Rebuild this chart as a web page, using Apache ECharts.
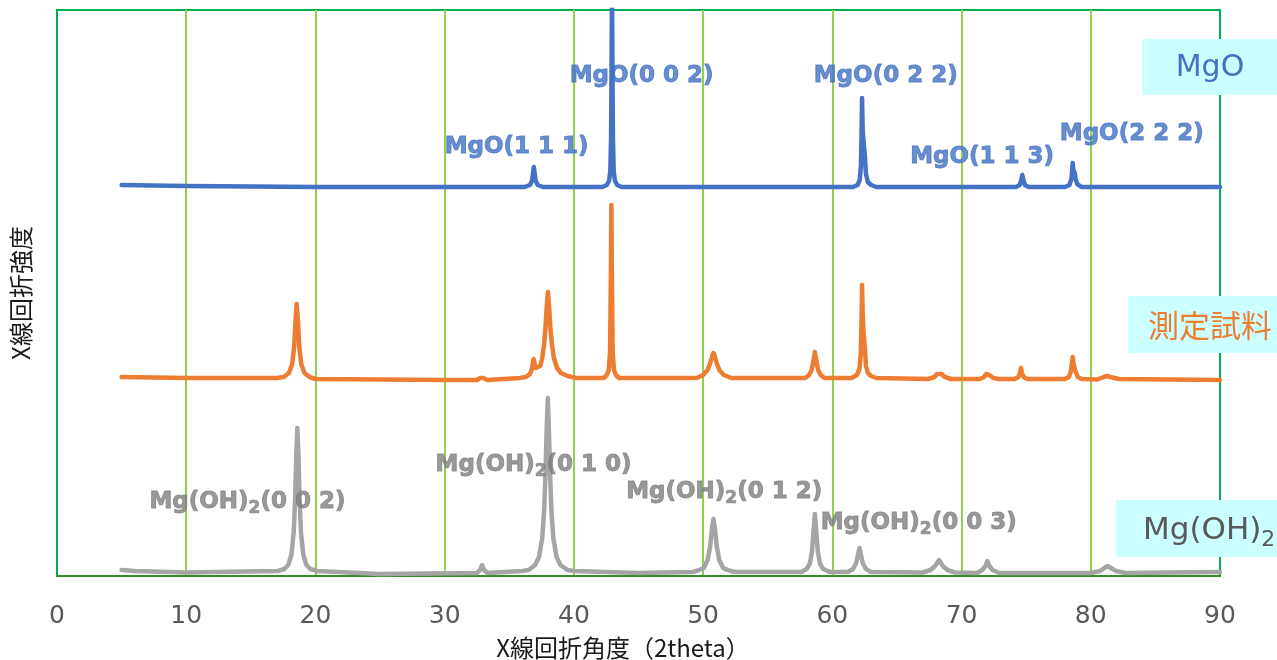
<!DOCTYPE html>
<html>
<head>
<meta charset="utf-8">
<script src="https://cdn.jsdelivr.net/npm/echarts@6/dist/echarts.min.js"></script>
<style>html,body{margin:0;padding:0;background:#fff}#c{width:1277px;height:660px}</style>
</head>
<body>
<div id="c"></div>
<script>
// ---- Data (2theta, intensity in chart units, each pattern offset) ----
const xTicks = [0, 10, 20, 30, 40, 50, 60, 70, 80, 90];
const seriesNames = ['MgO', '測定試料', 'Mg(OH)2'];

const mgoData = [
  [5,391],[10,390],[20,389],
  [36.2,389],[36.6,391],[36.75,395],[36.84,403],[36.9,409],[36.96,403],[37.05,395],[37.2,391],[37.6,389],
  [42.2,389],[42.55,391],[42.72,395],[42.82,405],[42.88,440],[42.92,520],[42.95,600],[42.98,520],[43.02,440],[43.08,405],[43.18,395],[43.35,391],[43.7,389],
  [61.6,389],[61.95,391],[62.12,396],[62.21,410],[62.26,440],[62.3,478],[62.35,445],[62.4,437],[62.46,436],[62.52,420],[62.6,402],[62.75,394],[63.0,391],[63.4,389],
  [74.2,389],[74.5,391],[74.62,396],[74.7,401],[74.78,396],[74.9,391],[75.2,389],
  [78.0,389],[78.35,391],[78.5,397],[78.56,405],[78.6,413],[78.65,406],[78.7,404],[78.76,403],[78.82,397],[78.95,392],[79.3,389],
  [90,389]
];

const sampleData = [
  [5,199],[10,198],[17.0,198],[17.55,199],[17.95,203],[18.2,212],[18.35,229],[18.46,256],[18.55,272],[18.64,256],[18.75,229],[18.9,212],[19.15,203],[19.55,199],[20,197],
  [30,196],[32.5,196],[32.75,198],[32.88,200],[33.0,198],[33.3,196],
  [35.8,198],[36.3,199],[36.6,202],[36.75,207],[36.83,214],[36.88,217],[36.95,213],[37.05,208],[37.2,207],[37.4,210],[37.55,218],[37.7,232],[37.8,248],[37.9,270],[37.99,284],[38.08,270],[38.18,248],[38.3,232],[38.45,218],[38.7,208],[39.0,203],[39.5,200],[40.2,198],
  [42.3,198],[42.55,201],[42.7,206],[42.8,224],[42.86,300],[42.9,371],[42.94,300],[43.0,224],[43.1,206],[43.25,201],[43.5,198],
  [49.5,198],[50.0,201],[50.35,206],[50.55,213],[50.7,220],[50.8,223],[50.9,220],[51.05,213],[51.25,206],[51.6,201],[52.2,198],
  [57.9,198],[58.2,201],[58.4,206],[58.52,214],[58.65,224],[58.78,214],[58.9,206],[59.1,201],[59.4,198],
  [61.5,198],[61.9,201],[62.1,207],[62.2,222],[62.26,255],[62.3,291],[62.35,262],[62.4,246],[62.46,244],[62.52,228],[62.6,210],[62.75,203],[63.0,200],[63.4,198],
  [67.4,197],[67.9,199],[68.1,202],[68.25,203.5],[68.45,202],[68.7,199],[69.2,197],
  [71.4,197],[71.75,199],[71.9,202],[72.0,203],[72.15,201],[72.45,198],[72.9,197],
  [74.1,197],[74.4,199],[74.52,203],[74.6,208],[74.68,203],[74.8,199],[75.1,197],
  [78.0,197],[78.3,199],[78.45,204],[78.53,212],[78.6,219],[78.68,211],[78.76,209],[78.84,204],[79.0,199],[79.3,197],
  [80.5,196.5],[81.0,199],[81.25,200],[81.5,199],[82.2,197],[90,196]
];

const mgoh2Data = [
  [5,6],[6,5],[10,3.5],
  [17.1,5],[17.6,7],[17.9,11],[18.15,22],[18.32,44],[18.43,78],[18.52,123],[18.6,148],[18.68,123],[18.77,78],[18.88,44],[19.05,22],[19.3,11],[19.6,7],[20.1,5],
  [25,2],[32.5,3],[32.75,6],[32.9,11],[33.05,6],[33.3,3],
  [36.0,5],[36.5,6],[37.0,11],[37.3,19],[37.55,38],[37.7,66],[37.8,101],[37.9,149],[37.98,178],[38.06,149],[38.16,101],[38.26,66],[38.41,38],[38.66,19],[38.96,11],[39.5,6],[40,5],
  [45,3],[49.2,4],[49.6,5.5],[50.05,8],[50.35,16],[50.55,30],[50.68,47],[50.8,57],[50.92,47],[51.05,30],[51.25,16],[51.55,8],[52.0,5.5],[52.5,4],
  [57.6,4],[58.0,7],[58.25,12],[58.42,24],[58.53,42],[58.65,62],[58.77,42],[58.88,24],[59.05,12],[59.3,7],[59.8,4],
  [61.2,4],[61.6,7],[61.85,13],[61.98,21],[62.1,28],[62.22,21],[62.35,13],[62.6,7],[63.0,4],
  [67.0,3.5],[67.6,6],[67.95,10],[68.25,16],[68.55,10],[68.9,6],[69.5,3.5],
  [71.2,3],[71.6,6],[71.85,10],[72.0,15],[72.15,10],[72.4,6],[72.9,3],
  [80.0,3],[80.7,5],[81.05,8],[81.3,10],[81.55,8],[81.95,5],[82.7,3],[90,4]
];

// peak annotations: [2theta, y, text]
const mgoLabels = [
  [35.57, 429, 'MgO(1 1 1)'],
  [45.24, 500, 'MgO(0 0 2)'],
  [64.13, 500, 'MgO(0 2 2)'],
  [71.59, 419, 'MgO(1 1 3)'],
  [83.17, 442, 'MgO(2 2 2)']
];
const mgoh2Labels = [
  [14.74, 74, '(0 0 2)'],
  [36.88, 111, '(0 1 0)'],
  [51.63, 84, '(0 1 2)'],
  [66.68, 53, '(0 0 3)']
];

// ---- Chart ----
const BLUE = '#4472C4', ORANGE = '#ED7D31', GRAY = '#A5A5A5', LGRAY = '#7F7F7F';
const chart = echarts.init(document.getElementById('c'), null, {renderer: 'canvas'});

const lineSeries = (name, data, color) => ({
  name, type: 'line', data, showSymbol: false, symbol: 'none', smooth: false,
  lineStyle: {color, width: 4.5, join: 'round', cap: 'round'},
  clip: true, z: 3
});

chart.setOption({
  animation: false,
  grid: {left: 57, right: 57, top: 10, bottom: 84, outerBoundsMode: 'none', containLabel: false,
    show: true, borderColor: '#00B050', borderWidth: 2, backgroundColor: 'transparent'},
  xAxis: {
    type: 'value', min: 0, max: 90, interval: 10,
    axisLine: {show: true, lineStyle: {color: '#3A8A2E', width: 2}},
    axisTick: {show: false},
    axisLabel: {fontSize: 25, color: '#595959', fontFamily: 'DejaVu Sans', margin: 28,
      formatter: v => String(xTicks[xTicks.indexOf(v)])},
    splitLine: {show: true, showMinLine: false, showMaxLine: false, lineStyle: {color: '#92D050', width: 2}},
    name: 'X線回折角度（2theta）', nameLocation: 'middle', nameGap: 60,
    nameTextStyle: {fontSize: 24, color: '#1a1a1a', fontFamily: 'Noto Sans CJK JP', padding: [0, 31, 0, 0]}
  },
  yAxis: {
    type: 'value', min: 0, max: 566,
    axisLine: {show: false}, axisTick: {show: false}, axisLabel: {show: false}, splitLine: {show: false},
    name: 'X線回折強度', nameLocation: 'middle', nameGap: 24,
    nameTextStyle: {fontSize: 24, color: '#1a1a1a', fontFamily: 'Noto Sans CJK JP'}
  },
  series: [
    lineSeries(seriesNames[2], mgoh2Data, GRAY),
    lineSeries(seriesNames[1], sampleData, ORANGE),
    lineSeries(seriesNames[0], mgoData, BLUE),
    {
      type: 'scatter', symbolSize: 0, z: 5, silent: true,
      data: mgoLabels.map(d => ({value: [d[0], d[1]], name: d[2]})),
      label: {show: true, position: 'inside', formatter: p => p.name,
        fontFamily: 'DejaVu Sans', fontWeight: 'bold', fontSize: 23, color: BLUE,
        textBorderColor: BLUE, textBorderWidth: 0.9}
    },
    {
      type: 'scatter', symbolSize: 0, z: 5, silent: true,
      data: mgoh2Labels.map(d => ({value: [d[0], d[1]], name: d[2]})),
      label: {show: true, position: 'inside',
        formatter: p => '{a|Mg(OH)}{s|2}{a|' + p.name + '}',
        rich: {
          a: {fontFamily: 'DejaVu Sans', fontWeight: 'bold', fontSize: 23, color: LGRAY, lineHeight: 30,
            textBorderColor: LGRAY, textBorderWidth: 0.9},
          s: {fontFamily: 'DejaVu Sans', fontWeight: 'bold', fontSize: 17, color: LGRAY, lineHeight: 17, verticalAlign: 'bottom',
            textBorderColor: LGRAY, textBorderWidth: 0.7}
        }
      }
    }
  ],
  graphic: [
    {type: 'rect', shape: {x: 1142, y: 39, width: 135, height: 56}, style: {fill: '#CCFFFF'}, z: 10},
    {type: 'text', x: 1210, y: 68, style: {text: 'MgO', fill: BLUE, font: '30px "DejaVu Sans"', textAlign: 'center', textVerticalAlign: 'middle'}, z: 11},
    {type: 'rect', shape: {x: 1128, y: 296, width: 149, height: 57}, style: {fill: '#CCFFFF'}, z: 10},
    {type: 'text', x: 1210, y: 325, style: {text: '測定試料', fill: ORANGE, font: '31px "Noto Sans CJK JP"', textAlign: 'center', textVerticalAlign: 'middle'}, z: 11},
    {type: 'rect', shape: {x: 1116, y: 500, width: 161, height: 57}, style: {fill: '#CCFFFF'}, z: 10},
    {type: 'text', x: 1143, y: 531, style: {text: '{a|Mg(OH)}{s|2}', textAlign: 'left', textVerticalAlign: 'middle',
      rich: {
        a: {fill: '#595959', fontFamily: 'DejaVu Sans', fontSize: 31, lineHeight: 40},
        s: {fill: '#595959', fontFamily: 'DejaVu Sans', fontSize: 22, lineHeight: 28, verticalAlign: 'bottom'}
      }}, z: 11}
  ]
});
</script>
</body>
</html>
